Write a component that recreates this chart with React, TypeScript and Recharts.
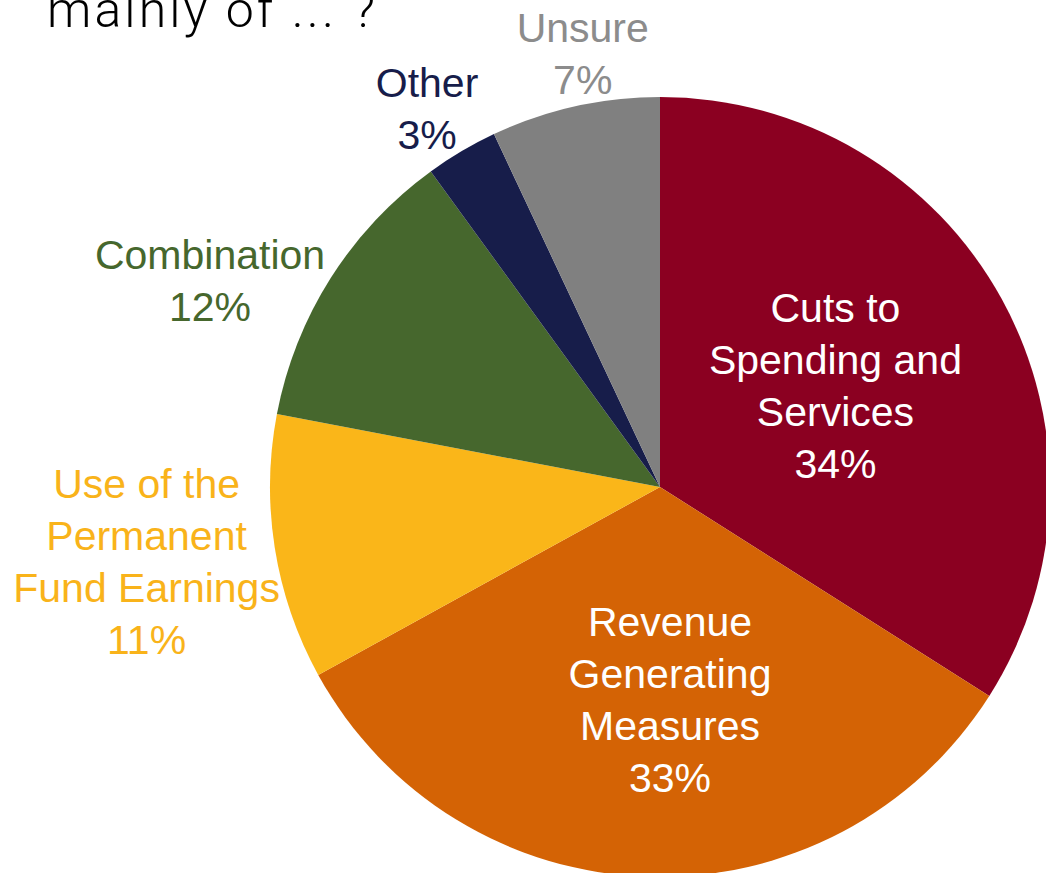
import { Cell, Pie, PieChart } from "recharts";

const categories = [
  "Cuts to Spending and Services",
  "Revenue Generating Measures",
  "Use of the Permanent Fund Earnings",
  "Combination",
  "Other",
  "Unsure",
];
const shares = [34, 33, 11, 12, 3, 7];
const labelLines = [
  ["Cuts to", "Spending and", "Services"],
  ["Revenue", "Generating", "Measures"],
  ["Use of the", "Permanent", "Fund Earnings"],
  ["Combination"],
  ["Other"],
  ["Unsure"],
];

const sliceColors = ["#8B0021", "#D46305", "#FAB619", "#46672D", "#171D4A", "#808080"];
const textColors = ["#FFFFFF", "#FFFFFF", "#F9B31A", "#46672D", "#171D4A", "#8C8C8C"];
// label spot: fraction of outer radius, angle nudge (deg, counter-clockwise)
const labelSpots = [
  { r: 0.52, nudge: 1.3 },
  { r: 0.545, nudge: 4.5 },
  { r: 1.33, nudge: -0.8 },
  { r: 1.27, nudge: 7.7 },
  { r: 1.14, nudge: 1 },
  { r: 1.13, nudge: -2.5 },
];

const chartData = categories.map((name, i) => ({ name, value: shares[i] }));

const RAD = Math.PI / 180;
const FONT = "'Liberation Sans', Arial, sans-serif";
const LINE = 52;
const CAP = 30;

function renderLabel(props: any) {
  const { cx, cy, midAngle, outerRadius, index, value } = props;
  const spot = labelSpots[index];
  const angle = midAngle + spot.nudge;
  const x = cx + Math.cos(-angle * RAD) * outerRadius * spot.r;
  const y = cy + Math.sin(-angle * RAD) * outerRadius * spot.r;
  const lines = [...labelLines[index], `${value}%`];
  const firstBaseline = y - ((lines.length - 1) * LINE + CAP) / 2 + CAP;
  return (
    <text
      key={`lbl-${index}`}
      x={x}
      y={firstBaseline}
      textAnchor="middle"
      fill={textColors[index]}
      fontSize={41}
      fontFamily={FONT}
    >
      {lines.map((line, i) => (
        <tspan key={i} x={x} y={firstBaseline + i * LINE}>
          {line}
        </tspan>
      ))}
    </text>
  );
}

export default function App() {
  return (
    <div style={{ position: "absolute", left: 0, top: 0, width: 1046, height: 873, background: "#fff" }}>
      <style>{`.recharts-pie-sectors { filter: drop-shadow(-1px 1px 4px rgba(0,0,0,0.45)); }`}</style>
      <PieChart width={1046} height={873} margin={{ top: 0, right: 0, bottom: 0, left: 0 }}>
        <text
          x={47}
          y={27}
          fontSize={50}
          fontWeight={300}
          fontFamily="Roboto, 'Liberation Sans', sans-serif"
          fill="#000"
          textLength={328}
          lengthAdjust="spacing"
        >
          mainly of ... ?
        </text>
        <Pie
          data={chartData}
          dataKey="value"
          nameKey="name"
          cx={660}
          cy={487}
          outerRadius={390}
          startAngle={90}
          endAngle={-270}
          stroke="none"
          labelLine={false}
          label={renderLabel}
          isAnimationActive={false}
        >
          {chartData.map((entry, i) => (
            <Cell key={entry.name} fill={sliceColors[i]} />
          ))}
        </Pie>
      </PieChart>
    </div>
  );
}
